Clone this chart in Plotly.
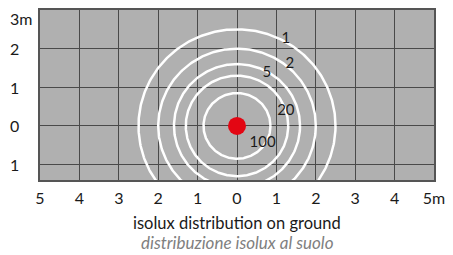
import numpy as np
import plotly.graph_objects as go

# data
radii = [2.5, 2.0, 1.6, 1.3, 0.85]          # isolux curve radii (m)
curve_labels = ["1", "2", "5", "20", "100"]  # lux values
label_x = [1.24, 1.34, 0.76, 1.24, 0.65]
label_y = [2.25, 1.60, 1.37, 0.39, -0.46]
x_ticks = [-5, -4, -3, -2, -1, 0, 1, 2, 3, 4, 5]
x_tick_text = ["5", "4", "3", "2", "1", "0", "1", "2", "3", "4", "5m"]
y_ticks = [3, 2, 1, 0, -1]
y_tick_text = ["3m", "2", "1", "0", "1"]
source = [0]

FONT = "Lato"
fig = go.Figure()

theta = np.linspace(0, 2 * np.pi, 361)
for r in radii:
    fig.add_trace(go.Scatter(x=r * np.cos(theta), y=r * np.sin(theta), mode="lines",
                             line=dict(color="white", width=2.5), hoverinfo="skip",
                             showlegend=False))

fig.add_trace(go.Scatter(x=source, y=source, mode="markers",
                         marker=dict(color="#e30613", size=18), showlegend=False))

fig.add_trace(go.Scatter(x=label_x, y=label_y, mode="text", text=curve_labels,
                         textfont=dict(family=FONT, size=15, color="#1a1a1a"),
                         showlegend=False))

for v, t in zip(y_ticks, y_tick_text):
    fig.add_annotation(x=-0.08, xref="paper", xanchor="left", y=v, yref="y",
                       yshift=-8 if v == 3 else 0,
                       text=t, showarrow=False,
                       font=dict(family=FONT, size=16, color="#1a1a1a"))

fig.add_annotation(x=0, xref="x", y=-0.25, yref="paper", yanchor="middle",
                   text="isolux distribution on ground",
                   showarrow=False, font=dict(family=FONT, size=16.5, color="#1a1a1a"))
fig.add_annotation(x=0, xref="x", y=-0.365, yref="paper", yanchor="middle",
                   text="<i>distribuzione isolux al suolo</i>",
                   showarrow=False, font=dict(family=FONT, size=17, color="#808080"))

fig.update_layout(
    width=453, height=255,
    margin=dict(l=40, r=14, t=8, b=75),
    paper_bgcolor="white", plot_bgcolor="#b0b0b0",
    xaxis=dict(range=[-5, 5], tickvals=x_ticks, ticktext=x_tick_text,
               showgrid=True, gridcolor="#4a4a4a", gridwidth=1, zeroline=False,
               showline=True, linecolor="#555555", linewidth=2, mirror=True,
               ticks="", ticklabelstandoff=3,
               tickfont=dict(family=FONT, size=16, color="#1a1a1a")),
    yaxis=dict(range=[-1.4, 3], tickvals=y_ticks, showticklabels=False,
               showgrid=True, gridcolor="#4a4a4a", gridwidth=1, zeroline=False,
               showline=True, linecolor="#555555", linewidth=2, mirror=True, ticks=""),
)

fig.write_html("out.html", config={"displayModeBar": False},
               post_script="document.body.style.margin='0';")
